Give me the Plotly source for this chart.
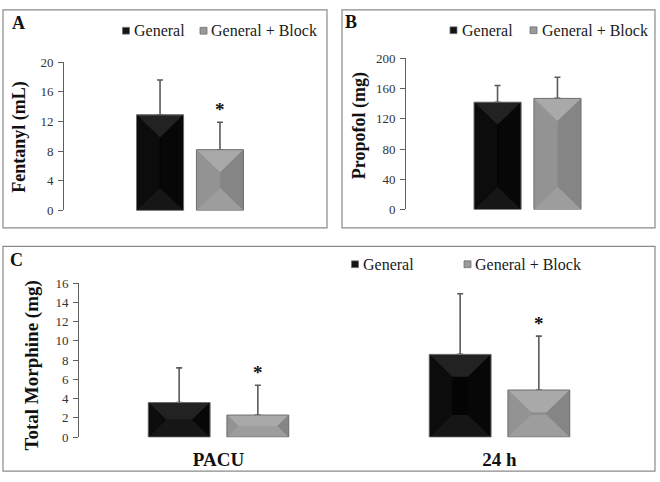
import plotly.graph_objects as go

# ---------------- data ----------------
series_names = ["General", "General + Block"]

fentanyl_mean = [12.9, 8.2]
fentanyl_sd = [4.7, 3.7]
fentanyl_sig = [False, True]

propofol_mean = [142, 147]
propofol_sd = [22, 28]
propofol_sig = [False, False]

morphine_groups = ["PACU", "24 h"]
morphine_general_mean = [3.6, 8.6]
morphine_general_sd = [3.6, 6.3]
morphine_block_mean = [2.3, 4.9]
morphine_block_sd = [3.1, 5.6]
morphine_block_sig = [True, True]

fentanyl_ticks = [0, 4, 8, 12, 16, 20]
propofol_ticks = [0, 40, 80, 120, 160, 200]
morphine_ticks = [0, 2, 4, 6, 8, 10, 12, 14, 16]

# ---------------- style / layout constants ----------------
W, H = 660, 482
FONT = "Liberation Serif"
AXIS_GREY = "#5f5f5f"
TICK_TXT = "#333333"
ERR_COL = "#5a5a5a"
BEVEL_PX = 23
OFFSET = 0.14   # bar centre offset from group centre (x units)
BAR_W = 0.22    # bar width (x units)

STYLES = {
    "General": dict(base="#040404", top="#222222", left="#0c0c0c", right="#070707",
                    bottom="#161616", edge="#6f6f6f", swatch="#141414"),
    "General + Block": dict(base="#8e8e8e", top="#a9a9a9", left="#939393", right="#858585",
                            bottom="#9d9d9d", edge="#6f6f6f", swatch="#9a9a9a"),
}


def px(x):
    return x / W


def py(y):
    return 1 - y / H


# panel geometry in pixels: axis-line x, right end, y0 pixel, ytop pixel, group centre px, unit px
panels = {
    "A": dict(xa="x", ya="y", ax=64, right=322, y0=210, y1=57, gc=190, unit=214, yr=[0, 20]),
    "B": dict(xa="x2", ya="y2", ax=406, right=650, y0=209, y1=53, gc=527.5, unit=214, yr=[0, 200]),
    "C": dict(xa="x3", ya="y3", ax=79, right=650, y0=444, y1=285, gc=218.5, unit=281, yr=[0, 16]),
}

fig = go.Figure()
shapes = []
annotations = []


def add_bars(panel, xs, means, sds, name, sig):
    p = panels[panel]
    st = STYLES[name]
    fig.add_trace(go.Bar(
        x=xs, y=means, width=[BAR_W] * len(xs), name=name, showlegend=False,
        xaxis=p["xa"], yaxis=p["ya"],
        marker=dict(color=st["base"], line=dict(width=0)),
        error_y=dict(type="data", symmetric=False, array=sds, arrayminus=[0] * len(sds),
                     color=ERR_COL, thickness=1.6, width=3),
    ))
    sx = p["unit"]
    sy = (p["y0"] - p["y1"]) / (p["yr"][1] - p["yr"][0])
    for xc, v, s, g in zip(xs, means, sds, sig):
        x0, x1, y0, y1 = xc - BAR_W / 2, xc + BAR_W / 2, 0, v
        wpx, hpx = BAR_W * sx, v * sy
        d = min(BEVEL_PX, wpx / 2, hpx / 2)
        dx, dy = d / sx, d / sy
        ix0, ix1, iy0, iy1 = x0 + dx, x1 - dx, y0 + dy, y1 - dy
        faces = [
            ([(x0, y1), (x1, y1), (ix1, iy1), (ix0, iy1)], st["top"]),
            ([(x0, y0), (x0, y1), (ix0, iy1), (ix0, iy0)], st["left"]),
            ([(x1, y0), (x1, y1), (ix1, iy1), (ix1, iy0)], st["right"]),
            ([(x0, y0), (x1, y0), (ix1, iy0), (ix0, iy0)], st["bottom"]),
        ]
        for pts, col in faces:
            path = "M " + " L ".join(f"{a},{b}" for a, b in pts) + " Z"
            shapes.append(dict(type="path", path=path, xref=p["xa"], yref=p["ya"],
                               fillcolor=col, line=dict(width=0), layer="above"))
        shapes.append(dict(type="rect", x0=x0, x1=x1, y0=y0, y1=y1, xref=p["xa"], yref=p["ya"],
                           line=dict(color=st["edge"], width=1), fillcolor="rgba(0,0,0,0)",
                           layer="above"))
        if g:
            annotations.append(dict(x=xc, y=v + s, xref=p["xa"], yref=p["ya"], text="*",
                                    showarrow=False, yanchor="bottom", yshift=0,
                                    font=dict(family=FONT, size=19, color="#111111", weight="bold")))


# Panel A
add_bars("A", [-OFFSET], fentanyl_mean[:1], fentanyl_sd[:1], series_names[0], fentanyl_sig[:1])
add_bars("A", [OFFSET], fentanyl_mean[1:], fentanyl_sd[1:], series_names[1], fentanyl_sig[1:])
# Panel B
add_bars("B", [-OFFSET], propofol_mean[:1], propofol_sd[:1], series_names[0], propofol_sig[:1])
add_bars("B", [OFFSET], propofol_mean[1:], propofol_sd[1:], series_names[1], propofol_sig[1:])
# Panel C
gidx = list(range(len(morphine_groups)))
add_bars("C", [g - OFFSET for g in gidx], morphine_general_mean, morphine_general_sd,
         series_names[0], [False] * len(gidx))
add_bars("C", [g + OFFSET for g in gidx], morphine_block_mean, morphine_block_sd,
         series_names[1], morphine_block_sig)

# ---------------- axes ----------------
tickfont = dict(family=FONT, size=13, color=TICK_TXT)


def yaxis_cfg(p, ticks):
    return dict(domain=[py(p["y0"]), py(p["y1"])], range=p["yr"], tickvals=ticks,
                showline=True, linecolor=AXIS_GREY, linewidth=1, ticks="outside",
                ticklen=5, tickcolor=AXIS_GREY, tickfont=tickfont, showgrid=False,
                zeroline=False, anchor=p["xa"], fixedrange=True, ticklabelstandoff=2)


def xaxis_cfg(p):
    lo = (p["ax"] - p["gc"]) / p["unit"]
    hi = (p["right"] - p["gc"]) / p["unit"]
    return dict(domain=[px(p["ax"]), px(p["right"])], range=[lo, hi], showline=False,
                showgrid=False, zeroline=False, anchor=p["ya"], fixedrange=True)


pA, pB, pC = panels["A"], panels["B"], panels["C"]
fig.update_layout(
    xaxis=dict(**xaxis_cfg(pA), showticklabels=False),
    yaxis=yaxis_cfg(pA, fentanyl_ticks),
    xaxis2=dict(**xaxis_cfg(pB), showticklabels=False),
    yaxis2=yaxis_cfg(pB, propofol_ticks),
    xaxis3=dict(**xaxis_cfg(pC), tickvals=gidx, ticktext=morphine_groups, ticks="",
                ticklabelstandoff=9,
                tickfont=dict(family=FONT, size=19, color="#111111", weight="bold")),
    yaxis3=yaxis_cfg(pC, morphine_ticks),
)

# ---------------- frames ----------------
for (l, t, r, b) in [(3, 3, 327, 228), (342, 3, 655, 228), (3, 247, 655, 479)]:
    shapes.append(dict(type="rect", xref="paper", yref="paper", x0=px(l), x1=px(r),
                       y0=py(b), y1=py(t), line=dict(color="#8a8a8a", width=1.2),
                       fillcolor="rgba(0,0,0,0)", layer="below"))

# ---------------- panel letters ----------------
for letter, xl, yl in [("A", 10, 16), ("B", 343, 15), ("C", 8, 261)]:
    annotations.append(dict(x=px(xl), y=py(yl), xref="paper", yref="paper", text=letter,
                            showarrow=False, xanchor="left", yanchor="middle",
                            font=dict(family=FONT, size=18, color="#111111", weight="bold")))

# ---------------- y titles ----------------
for text, xt, yt, fs in [("Fentanyl (mL)", 20, 134, 18), ("Propofol (mg)", 359, 123, 18),
                         ("Total Morphine (mg)", 32, 370, 19)]:
    annotations.append(dict(x=px(xt), y=py(yt), xref="paper", yref="paper", text=text,
                            textangle=-90, showarrow=False, xanchor="center", yanchor="middle",
                            font=dict(family=FONT, size=fs, color="#111111", weight="bold")))

# ---------------- legends ----------------
legend_pos = [  # (square left px, text left px, y px) per panel per series
    [(122.5, 132, 24.5), (200, 209, 24.5)],
    [(450, 460, 24), (530, 540, 24)],
    [(351.5, 361, 265.5), (464, 473, 265.5)],
]
for row in legend_pos:
    for name, (sqx, tx, ty) in zip(series_names, row):
        st = STYLES[name]
        shapes.append(dict(type="rect", xref="paper", yref="paper", x0=px(sqx), x1=px(sqx + 7),
                           y0=py(ty + 3.5), y1=py(ty - 3.5), fillcolor=st["swatch"],
                           line=dict(color=st["edge"], width=0.8)))
        annotations.append(dict(x=px(tx), y=py(ty), xref="paper", yref="paper", text=name,
                                showarrow=False, xanchor="left", yanchor="middle",
                                font=dict(family=FONT, size=16, color="#1a1a1a")))

fig.update_layout(
    width=W, height=H, margin=dict(l=0, r=0, t=0, b=0),
    paper_bgcolor="white", plot_bgcolor="white", barmode="overlay",
    shapes=shapes, annotations=annotations, showlegend=False,
)

fig.write_html("out.html", config={"displayModeBar": False},
               post_script="document.body.style.margin='0';document.body.style.overflow='hidden';")
